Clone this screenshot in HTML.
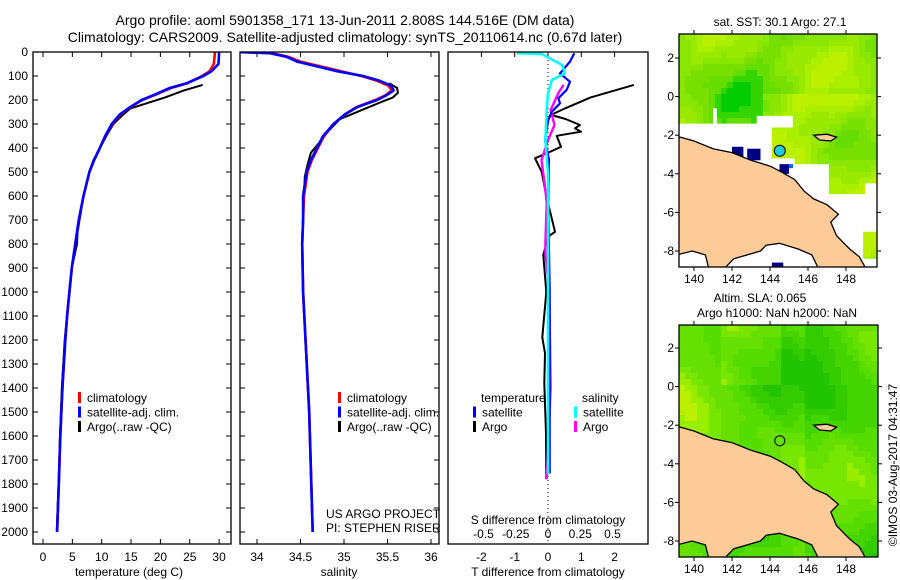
<!DOCTYPE html>
<html><head><meta charset="utf-8"><style>
html,body{margin:0;padding:0;background:#fff;}
svg{display:block;font-family:"Liberation Sans",sans-serif;}
</style></head><body>
<svg id="fig" width="900" height="580" viewBox="0 0 900 580" xmlns="http://www.w3.org/2000/svg">
<defs>
<clipPath id="cp1"><rect x="33" y="52" width="198" height="492"/></clipPath>
<clipPath id="cp2"><rect x="240" y="52" width="199" height="492"/></clipPath>
<clipPath id="cp3"><rect x="448" y="52" width="200" height="492"/></clipPath>
<clipPath id="cm1"><rect x="679" y="34" width="198" height="233"/></clipPath>
<clipPath id="cm2"><rect x="679" y="325" width="199" height="232"/></clipPath>
</defs>
<text x="345" y="25" font-size="14" text-anchor="middle">Argo profile: aoml 5901358_171 13-Jun-2011 2.808S 144.516E (DM data)</text>
<text x="345" y="42" font-size="14" text-anchor="middle">Climatology: CARS2009. Satellite-adjusted climatology: synTS_20110614.nc (0.67d later)</text>
<g id="g1"></g>
<g id="g2"></g>
<g id="g3"></g>
<g id="m1"></g>
<g id="m2"></g>
<text x="780" y="26" font-size="12" text-anchor="middle">sat. SST: 30.1 Argo: 27.1</text>
<text x="760" y="302" font-size="12" text-anchor="middle">Altim. SLA: 0.065</text>
<text x="777" y="317" font-size="12" text-anchor="middle">Argo h1000: NaN h2000: NaN</text>
<text transform="translate(897,465) rotate(-90)" font-size="12" text-anchor="middle">©IMOS 03-Aug-2017 04:31:47</text>
</svg>
<script>
const NS="http://www.w3.org/2000/svg";
// ---- data ----
const tDepth=[0,50,80,100,130,150,180,200,230,260,300,350,400,450,500,600,700,800,900,1000,1100,1200,1400,1600,1800,2000];
const tSat=[30.0,29.9,28.7,27.3,24.5,21.6,18.8,16.8,14.8,13.1,11.7,10.6,9.7,8.7,7.9,6.9,6.1,5.5,4.9,4.5,4.1,3.8,3.3,2.95,2.7,2.4];
const tClim=[29.3,29.1,28.4,27.1,24.6,21.8,19.0,16.9,14.9,13.2,11.8,10.6,9.7,8.7,7.9,6.9,6.1,5.5,4.9,4.5,4.1,3.8,3.3,2.95,2.7,2.4];
const tArgoDepth=[137,160,189,235,262,300,349,400,450,500,600,750,800,900,1000,1200,1400,1600,1800,1990];
const tArgo=[27.2,24.0,20.8,14.9,13.6,12.0,10.8,9.7,8.6,7.9,6.9,5.9,5.8,4.9,4.5,3.7,3.2,2.9,2.65,2.35];
const sDepth=[0,5,20,40,60,80,100,120,140,160,180,200,230,260,300,350,400,450,500,600,700,800,1000,1500,2000];
const sSat=[33.80,34.15,34.34,34.46,34.69,34.92,35.22,35.41,35.54,35.57,35.49,35.38,35.15,35.01,34.88,34.76,34.69,34.62,34.57,34.53,34.53,34.52,34.53,34.60,34.64];
const sClim=[33.80,34.17,34.36,34.50,34.73,34.96,35.20,35.38,35.51,35.55,35.48,35.36,35.14,35.01,34.88,34.77,34.70,34.63,34.58,34.54,34.53,34.52,34.53,34.60,34.64];
const sArgoDepth=[130,150,170,190,205,280,330,380,420,470,520,780,830,1000,1500,1980];
const sArgo=[35.52,35.61,35.62,35.56,35.45,34.95,34.82,34.71,34.62,34.58,34.55,34.52,34.52,34.53,34.60,34.64];
const dTSatDepth=[5,40,89,124,158,193,214,249,283,367,450,645,1000,1400,1755];
const dTSat=[0.79,0.66,0.36,0.66,0.56,0.31,0.36,0.11,0.01,-0.09,0.03,0.01,0.05,0.05,0.05];
const dTArgoDepth=[137,189,235,262,279,304,318,332,349,395,419,443,499,600,749,769,846,1000,1189,1255,1380,1588,1780];
const dTArgo=[2.58,1.28,0.51,0.09,0.53,0.96,0.81,0.99,0.26,0.39,0.01,-0.39,-0.19,-0.05,0.21,0.01,-0.14,-0.05,-0.17,-0.09,-0.11,-0.06,-0.05];
const dSSatDepth=[5,8,54,89,117,172,242,367,506,1000,1760];
const dSSat=[-0.24,-0.05,0.11,0.13,0.03,0,-0.01,-0.02,0,0,0];
const dSArgoDepth=[137,172,242,304,367,450,575,631,796,838,1000,1400,1780];
const dSArgo=[0.12,0.08,0.02,0.05,0,-0.05,-0.02,-0.01,-0.02,-0.02,0.01,0.02,-0.01];
const depthTicks=[0,100,200,300,400,500,600,700,800,900,1000,1100,1200,1300,1400,1500,1600,1700,1800,1900,2000];
const tTicks=[0,5,10,15,20,25,30];
const sTicks=[34,34.5,35,35.5,36];
const dTTicks=[-2,-1,0,1,2];
const dSTicks=[-0.5,-0.25,0,0.25,0.5];
const lonTicks=[140,142,144,146,148];
const latTicks=[2,0,-2,-4,-6,-8];
// ---- scales ----
const yD=d=>52+d*0.24;
const xT=t=>43+t*5.87;
const xS=s=>257+(s-34)*87;
const xDT=v=>548+v*33.3;
const xDS=v=>548+v*129;
function mk(tag,attrs,parent){const e=document.createElementNS(NS,tag);for(const k in attrs)e.setAttribute(k,attrs[k]);parent.appendChild(e);return e;}
function txt(parent,x,y,s,anchor,size){const e=mk('text',{x:x,y:y,'font-size':size||12,'text-anchor':anchor||'middle'},parent);e.textContent=s;return e;}
function line(parent,xs,ds,xf,color,w,name){
  const pts=xs.map((v,i)=>xf(v).toFixed(1)+','+yD(ds[i]).toFixed(1)).join(' ');
  const e=mk('polyline',{points:pts,fill:'none',stroke:color,'stroke-width':w,'stroke-linejoin':'round'},parent);
  
  
  return e;
}
function frame(g,x0,x1,name){
  const r=mk('rect',{x:x0,y:52,width:x1-x0,height:492,fill:'none',stroke:'#000','stroke-width':1.3},g);
  
  
}
function depthTickMarks(g,x0,x1){
  depthTicks.forEach(d=>{mk('line',{x1:x0,y1:yD(d),x2:x0+5,y2:yD(d),stroke:'#000'},g);mk('line',{x1:x1,y1:yD(d),x2:x1-5,y2:yD(d),stroke:'#000'},g);});
}
function xTickMarks(g,vals,f){
  vals.forEach(v=>{mk('line',{x1:f(v),y1:52,x2:f(v),y2:57,stroke:'#000'},g);mk('line',{x1:f(v),y1:544,x2:f(v),y2:539,stroke:'#000'},g);});
}
function legend(g,x,y0,items){
  items.forEach((it,i)=>{const y=y0+i*14.5;
    const b=mk('rect',{x:x,y:y-10,width:3,height:11,fill:it[1]},g);
    
    
    const t=txt(g,x+9,y,it[0],'start');
    
    
  });
}
// ---- panel 1 ----
const g1=document.getElementById('g1');
depthTicks.forEach(d=>{const t=txt(g1,28,yD(d)+4,String(d),'end');});
depthTickMarks(g1,33,231);xTickMarks(g1,tTicks,xT);
const c1=mk('g',{'clip-path':'url(#cp1)'},g1);
line(c1,tArgo,tArgoDepth,xT,'#000',2,'temperature-argo-line');
line(c1,tClim,tDepth,xT,'#f00',2.6,'temperature-climatology-line');
line(c1,tSat,tDepth,xT,'#00f',2.6,'temperature-satellite-line');
frame(g1,33,231,'temperature-plot-frame');
tTicks.forEach(v=>{const t=txt(g1,xT(v),561,String(v));});
txt(g1,129,576,'temperature (deg C)');
legend(g1,78,402,[['climatology','#f00'],['satellite-adj. clim.','#00f'],['Argo(..raw -QC)','#000']]);
// ---- panel 2 ----
const g2=document.getElementById('g2');
depthTickMarks(g2,240,439);xTickMarks(g2,sTicks,xS);
const c2=mk('g',{'clip-path':'url(#cp2)'},g2);
line(c2,sArgo,sArgoDepth,xS,'#000',2,'salinity-argo-line');
line(c2,sClim,sDepth,xS,'#f00',2.6,'salinity-climatology-line');
line(c2,sSat,sDepth,xS,'#00f',2.6,'salinity-satellite-line');
frame(g2,240,439,'salinity-plot-frame');
sTicks.forEach(v=>{const t=txt(g2,xS(v),561,String(v));});
txt(g2,339,576,'salinity');
legend(g2,338,402,[['climatology','#f00'],['satellite-adj. clim.','#00f'],['Argo(..raw -QC)','#000']]);
txt(g2,326,518,'US ARGO PROJECT','start');
txt(g2,326,532,'PI: STEPHEN RISER','start');
// ---- panel 3 ----
const g3=document.getElementById('g3');
dTTicks.forEach(v=>mk('line',{x1:xDT(v),y1:52,x2:xDT(v),y2:57,stroke:'#000'},g3));
const c3=mk('g',{'clip-path':'url(#cp3)'},g3);
mk('line',{x1:548,y1:52,x2:548,y2:544,stroke:'#000','stroke-dasharray':'1,3'},c3);
line(c3,dTArgo,dTArgoDepth,xDT,'#000',2,'tdiff-argo-line');
line(c3,dSArgo,dSArgoDepth,xDS,'#f0f',2.4,'sdiff-argo-line');
line(c3,dTSat,dTSatDepth,xDT,'#00f',2.2,'tdiff-satellite-line');
line(c3,dSSat,dSSatDepth,xDS,'#0ff',2.6,'sdiff-satellite-line');
mk('rect',{x:448,y:52,width:200,height:492,fill:'none',stroke:'#000','stroke-width':1.3},g3);
txt(g3,548,524,'S difference from climatology');
dSTicks.forEach(v=>{const t=txt(g3,xDS(v),538,String(v));});
dTTicks.forEach(v=>{const t=txt(g3,xDT(v),561,String(v));});
txt(g3,548,576,'T difference from climatology');
txt(g3,481,402,'temperature','start');
txt(g3,582,402,'salinity','start');
legend(g3,473,416.5,[['satellite','#00f'],['Argo','#000']]);
legend(g3,574,416.5,[['satellite','#0ff'],['Argo','#f0f']]);
// ---- maps ----
const land=[[139.1,-2.05],[140,-2.3],[141,-2.7],[142,-2.9],[143,-3.3],[144,-3.6],[144.6,-3.9],[145.3,-4.3],[145.8,-4.9],[146.3,-5.3],[147,-5.6],[147.6,-6.1],[147.2,-6.5],[147.5,-7.2],[148.2,-7.9],[148.7,-8.3],[149.1,-9.0],[146.6,-9.0],[146.2,-8.2],[145.5,-7.9],[144.5,-7.6],[143.8,-7.7],[143.5,-8.0],[142.8,-8.2],[142.1,-8.4],[141.5,-9.0],[140.8,-9.0],[140.6,-8.2],[139.9,-8.0],[139.1,-8.2]];
const island=[[146.3,-2.0],[147.0,-1.95],[147.5,-2.1],[147.2,-2.3],[146.6,-2.25]];
const white1=[[139.1,-1.4],[141.0,-1.4],[141,-0.6],[141.2,-0.6],[141.2,-1.4],[143.3,-1.4],[143.3,-1.0],[145.2,-1.0],[145.2,-1.6],[144.1,-1.6],[144.1,-3.2],[145.3,-3.2],[145.3,-3.5],[147.1,-3.5],[147.1,-5.05],[149.0,-5.05],[149.0,-4.5],[149.7,-4.5],[149.7,-7.0],[148.9,-7.0],[148.9,-8.4],[149.7,-8.4],[149.7,-9.0],[139.1,-9.0]];
const navy=[[142,-2.6,142.6,-3.2],[142.8,-2.7,143.5,-3.3],[144.5,-3.5,145,-4.0],[144.1,-8.6,144.7,-9]];
function drawMap(gid,clip,x0,x1,y0,y1,lat2y,mode){
  const g=document.getElementById(gid);
  const mx=lon=>694+(lon-140)*19;
  const my=lat=>lat2y-(lat-2)*19.3;
  const c=mk('g',{'clip-path':'url(#'+clip+')'},g);
  const cols1=['#00cc00','#33d400','#66dd00','#77e000','#88e600','#99ea00','#aaee00','#bbf000'];
  const cols2=['#22c400','#33cc00','#44d400','#55dd00','#66e000','#77e600','#99ee00','#bbf000'];
  for(let yy=y0;yy<y1;yy+=6){for(let xx=x0;xx<x1;xx+=6){
    let h;
    if(!mode){h=Math.sin(xx*0.045+yy*0.03)*0.45+Math.sin(xx*0.02-yy*0.05+1)*0.45+Math.sin(xx*0.13+yy*0.11)*0.12;
      if(xx>760&&yy>90) h+=0.6;}
    else{h=Math.sin(xx*0.03+yy*0.012+2)*0.45+Math.sin(xx*0.017-yy*0.04)*0.45+Math.sin(xx*0.11-yy*0.09)*0.1;
      if(xx>800) h-=0.4; if(xx>720&&xx<780&&yy<380) h+=0.5;}
    let k=Math.floor((h+1.0)/2.0*8);k=Math.max(0,Math.min(7,k));
    mk('rect',{x:xx,y:yy,width:6,height:6,fill:(mode?cols2:cols1)[k]},c);
  }}
  const poly=(pts,fill,name)=>{const e=mk('polygon',{points:pts.map(p=>mx(p[0]).toFixed(1)+','+my(p[1]).toFixed(1)).join(' '),fill:fill,stroke:fill=='#fdcb98'?'#000':'none','stroke-width':1.3},c);};
  if(!mode){
    poly(white1,'#fff','no-data-area');
    navy.forEach(r=>mk('rect',{x:mx(r[0]),y:my(r[1]),width:mx(r[2])-mx(r[0]),height:my(r[3])-my(r[1]),fill:'#000080'},c));
    mk('rect',{x:mx(145),y:my(-3.5),width:4,height:4,fill:'#0066ff'},c);
  }
  poly(land,'#fdcb98','land');
  poly(island,'#fdcb98','island');
  const ci=mk('circle',{cx:mx(144.516),cy:my(-2.808),r:mode?5:5.5,fill:mode?'none':'#22ccdd',stroke:'#000','stroke-width':1},c);
  
  
  mk('rect',{x:x0,y:y0,width:x1-x0,height:y1-y0,fill:'none',stroke:'#000','stroke-width':1.3},g);
  lonTicks.forEach(v=>{mk('line',{x1:mx(v),y1:y0,x2:mx(v),y2:y0-4,stroke:'#000'},g);mk('line',{x1:mx(v),y1:y1,x2:mx(v),y2:y1+4,stroke:'#000'},g);
    const t=txt(g,mx(v),y1+16,String(v));});
  latTicks.forEach(v=>{mk('line',{x1:x0,y1:my(v),x2:x0-4,y2:my(v),stroke:'#000'},g);mk('line',{x1:x1,y1:my(v),x2:x1+4,y2:my(v),stroke:'#000'},g);
    const t=txt(g,674,my(v)+4,String(v),'end');});
}
drawMap('m1','cm1',679,877,34,267,58,0);
drawMap('m2','cm2',679,878,325,557,348,1);
</script>
</body></html>
